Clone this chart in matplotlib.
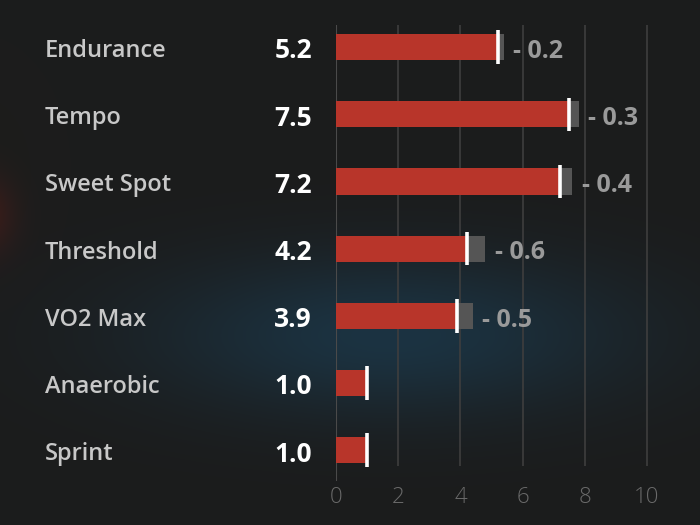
import numpy as np
import matplotlib
matplotlib.use("Agg")
import matplotlib.pyplot as plt

categories = ["Endurance", "Tempo", "Sweet Spot", "Threshold", "VO2 Max", "Anaerobic", "Sprint"]
values = [5.2, 7.5, 7.2, 4.2, 3.9, 1.0, 1.0]
deltas = [0.2, 0.3, 0.4, 0.6, 0.5, 0.0, 0.0]
xticks = [0, 2, 4, 6, 8, 10]

BG = np.array([0x1c, 0x1c, 0x1c]) / 255.0
RED = "#b8352a"
GRAY = "#555555"
GRID = "#3e3e3e"
FONT = ["Open Sans", "DejaVu Sans"]

W, H = 700, 525
fig = plt.figure(figsize=(7, 5.25), dpi=100)

# background with soft glows
yy, xx = np.mgrid[0:H, 0:W]
img = np.ones((H, W, 3)) * BG
blue = np.exp(-(((xx - 390) / 240.0) ** 2 + ((yy - 335) / 80.0) ** 2))
blue_c = np.array([0x1b, 0x33, 0x42]) / 255.0
img = img + blue[..., None] * (blue_c - BG)
red = np.exp(-(((xx + 15) / 30.0) ** 2 + ((yy - 215) / 40.0) ** 2))
red_c = np.array([0x3a, 0x1c, 0x1a]) / 255.0
img = img + red[..., None] * (red_c - BG)
bgax = fig.add_axes([0, 0, 1, 1])
bgax.imshow(np.clip(img, 0, 1), extent=[0, W, H, 0], aspect="auto")
bgax.axis("off")

px = 1.0 / W
ax = fig.add_axes([336 * px, 1 - 481 / H, 357.6 * px, (481 - 25) / H])
ax.patch.set_alpha(0)
ypos = np.arange(len(categories))
ax.set_xlim(0, 11.5)
ax.set_ylim(6.46, -0.33)

for t in xticks[1:]:
    ax.vlines(t, -0.33, 6.24, color=GRID, lw=1.2, zorder=0)
ax.vlines(0, -0.33, 6.46, color="#4a4a4a", lw=1.5, zorder=0)

tot = [v + d for v, d in zip(values, deltas)]
ax.barh(ypos, tot, height=0.39, color=GRAY, zorder=1)
ax.barh(ypos, values, height=0.39, color=RED, zorder=2)
for y, v in zip(ypos, values):
    ax.vlines(v, y - 0.25, y + 0.25, color="white", lw=2.6, zorder=3)

for y, v, d, c in zip(ypos, values, deltas, categories):
    yc = 1 - (48 + y * 67.2) / H
    fig.text(45 * px, yc, c, color="#c8c8c8",
             fontsize=17, fontweight="semibold", family=FONT, va="center_baseline", ha="left")
    fig.text(312 * px, yc, f"{v:.1f}", color="white",
             fontsize=19, fontweight="bold", family=FONT, va="center_baseline", ha="right")
    if d > 0:
        ax.text(v + d + 0.3, y + 0.02, f"- {d:.1f}", color="#9a9a9a", fontsize=18,
                fontweight="bold", family=FONT, va="center_baseline", ha="left")

ax.set_xticks(xticks)
ax.set_xticklabels([str(t) for t in xticks], color="#6a6a6a", fontsize=16,
                   fontweight="light", family=FONT)
ax.tick_params(axis="x", length=0, pad=4)
ax.set_yticks([])
for s in ax.spines.values():
    s.set_visible(False)

fig.savefig("out.png", dpi=100, facecolor=BG)
